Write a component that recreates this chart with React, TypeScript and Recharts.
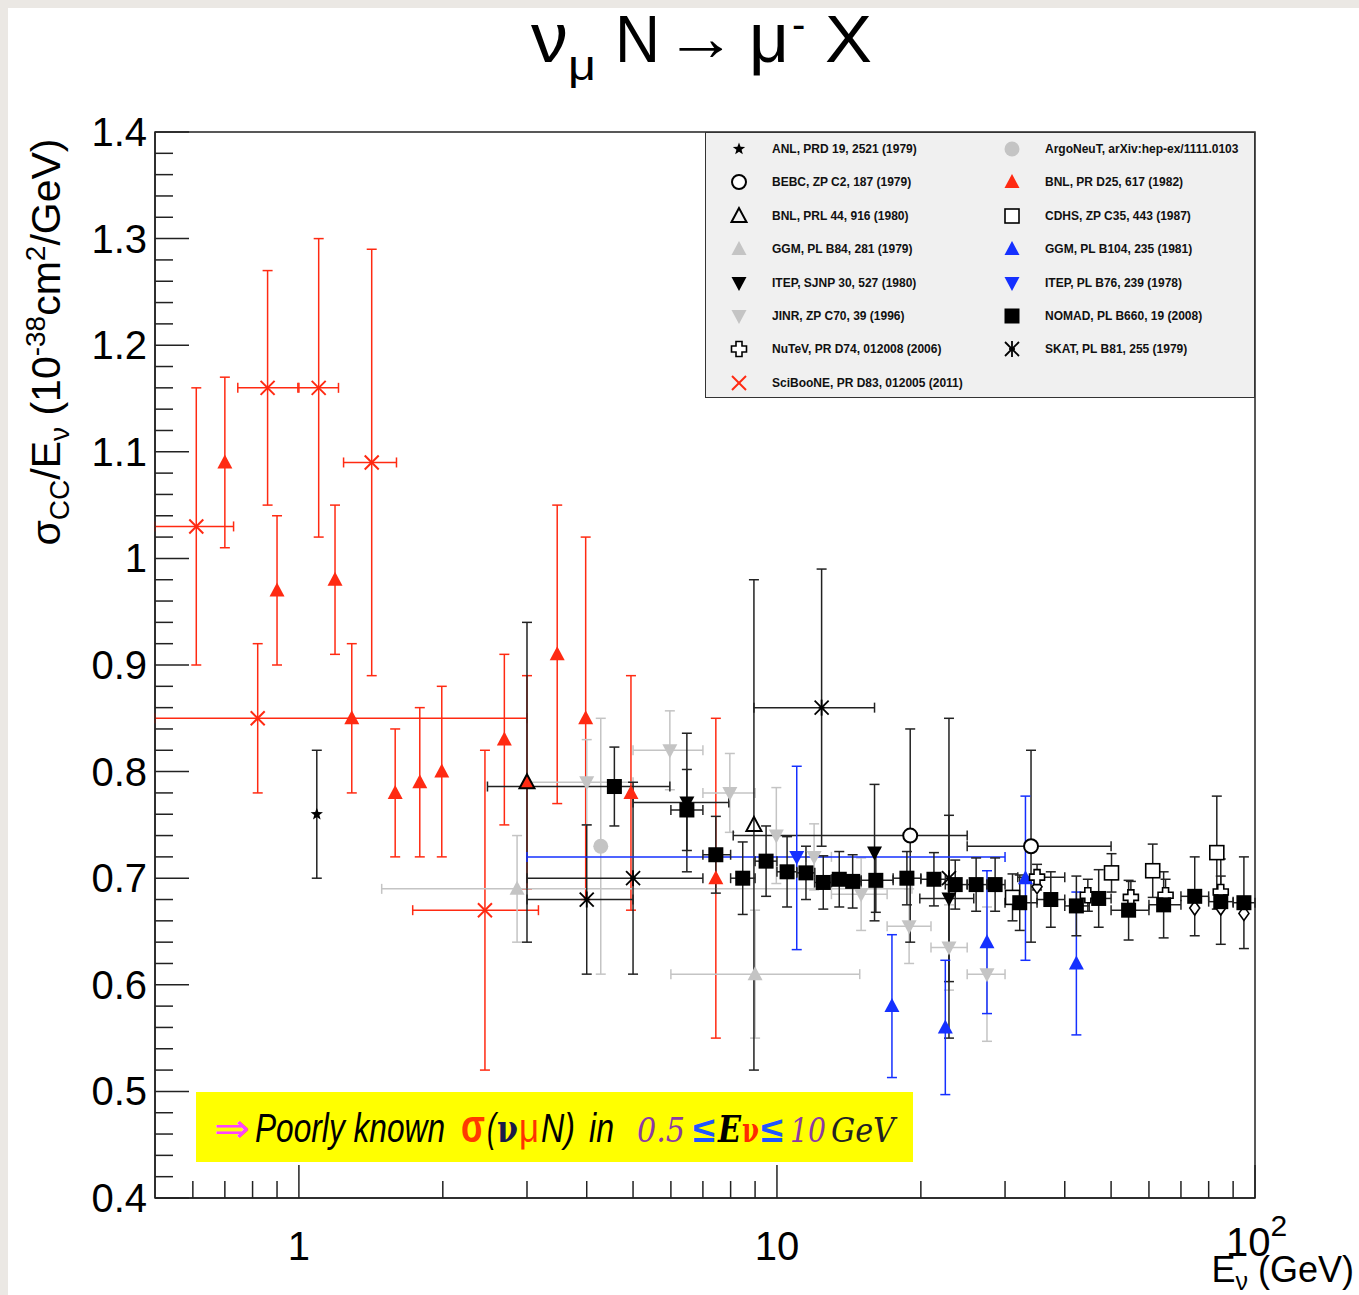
import React from 'react';
import { ComposedChart, Scatter, XAxis, YAxis, ErrorBar, Legend, ReferenceArea } from 'recharts';

const RED = '#ff2a12';
const BLUE = '#1530ff';
const GRAY = '#c4c4c4';
const BLACK = '#000';

// ---- data: e = E_nu (GeV), s = sigma/E, dy/dx = [minus, plus] ----
const sciBooNE = [
  { e: 0.61, s: 1.03, dy: [0.13, 0.13], dx: [0.11, 0.12] },
  { e: 0.82, s: 0.85, dy: [0.07, 0.07], dx: [0.32, 2.18] },
  { e: 0.86, s: 1.16, dy: [0.11, 0.11], dx: [0.115, 0.14] },
  { e: 1.1, s: 1.16, dy: [0.14, 0.14], dx: [0.105, 0.11] },
  { e: 1.42, s: 1.09, dy: [0.2, 0.2], dx: [0.18, 0.18] },
  { e: 2.45, s: 0.67, dy: [0.15, 0.15], dx: [0.72, 0.72] },
];

const bnlPRD25 = [
  { e: 0.7, s: 1.09, dy: [0.08, 0.08] },
  { e: 0.9, s: 0.97, dy: [0.07, 0.07] },
  { e: 1.19, s: 0.98, dy: [0.07, 0.07] },
  { e: 1.29, s: 0.85, dy: [0.07, 0.07] },
  { e: 1.59, s: 0.78, dy: [0.06, 0.06] },
  { e: 1.79, s: 0.79, dy: [0.07, 0.07] },
  { e: 1.99, s: 0.8, dy: [0.08, 0.08] },
  { e: 2.69, s: 0.83, dy: [0.08, 0.08] },
  { e: 3.0, s: 0.79, dy: [0.1, 0.1] },
  { e: 3.47, s: 0.91, dy: [0.14, 0.14] },
  { e: 3.98, s: 0.85, dy: [0.17, 0.17] },
  { e: 4.95, s: 0.78, dy: [0.11, 0.11] },
  { e: 7.45, s: 0.7, dy: [0.15, 0.15] },
];

const anl = [{ e: 1.09, s: 0.76, dy: [0.06, 0.06] }];

const bnlPRL44 = [
  { e: 3.0, s: 0.79, dy: [0.15, 0.15] },
  { e: 8.95, s: 0.75, dy: [0.23, 0.23] },
];

const ggmB84 = [
  { e: 2.86, s: 0.69, dy: [0.05, 0.05], dx: [1.37, 16.3] },
  { e: 9.0, s: 0.61, dy: [0.06, 0.06], dx: [3.0, 5.9] },
];

const jinr = [
  { e: 4.0, s: 0.79, dy: [0.04, 0.04], dx: [1.0, 1.0] },
  { e: 5.97, s: 0.82, dy: [0.037, 0.037], dx: [0.97, 1.03] },
  { e: 7.97, s: 0.78, dy: [0.037, 0.037], dx: [0.97, 1.03] },
  { e: 9.97, s: 0.74, dy: [0.045, 0.045] },
  { e: 11.96, s: 0.72, dy: [0.031, 0.031], dx: [0.46, 1.04] },
  { e: 15.0, s: 0.685, dy: [0.034, 0.034], dx: [2.0, 2.0] },
  { e: 18.9, s: 0.655, dy: [0.035, 0.035], dx: [1.9, 2.1] },
  { e: 22.9, s: 0.635, dy: [0.04, 0.04], dx: [1.9, 2.1] },
  { e: 27.5, s: 0.61, dy: [0.063, 0.063], dx: [2.5, 2.5] },
];

const argoNeuT = [{ e: 4.28, s: 0.73, dy: [0.12, 0.12] }];

const itepSJNP = [
  { e: 6.48, s: 0.771, dy: [0.065, 0.065], dx: [1.48, 1.45] },
  { e: 16.0, s: 0.724, dy: [0.064, 0.064] },
  { e: 22.9, s: 0.681, dy: [0.078, 0.078], dx: [3.0, 2.9] },
];

const skat = [
  { e: 4.0, s: 0.68, dy: [0.07, 0.07], dx: [1.0, 1.0] },
  { e: 5.0, s: 0.7, dy: [0.09, 0.09], dx: [2.0, 2.0] },
  { e: 12.4, s: 0.86, dy: [0.13, 0.13], dx: [3.45, 3.6] },
  { e: 22.9, s: 0.7, dy: [0.15, 0.15] },
];

const bebc = [
  { e: 19.0, s: 0.74, dy: [0.1, 0.1], dx: [10.9, 6.0] },
  { e: 34.0, s: 0.73, dy: [0.09, 0.09], dx: [9.0, 16.0] },
];

const itepB76 = [{ e: 11.0, s: 0.72, dy: [0.087, 0.085], dx: [8.0, 19.0] }];

const ggmB104 = [
  { e: 17.4, s: 0.58, dy: [0.067, 0.067] },
  { e: 22.5, s: 0.56, dy: [0.063, 0.063] },
  { e: 27.5, s: 0.64, dy: [0.067, 0.067] },
  { e: 33.1, s: 0.7, dy: [0.077, 0.077] },
  { e: 42.3, s: 0.62, dy: [0.067, 0.067] },
];

const nomad = [
  { e: 4.57, s: 0.786, dy: [0.037, 0.037], dx: [2.09, 1.4] },
  { e: 6.48, s: 0.764, dy: [0.038, 0.038], dx: [0.48, 0.52] },
  { e: 7.45, s: 0.722, dy: [0.036, 0.036], dx: [0.45, 0.55] },
  { e: 8.48, s: 0.7, dy: [0.034, 0.034], dx: [0.48, 0.52] },
  { e: 9.49, s: 0.716, dy: [0.033, 0.033], dx: [0.49, 0.51] },
  { e: 10.5, s: 0.706, dy: [0.033, 0.033], dx: [0.5, 0.5] },
  { e: 11.5, s: 0.705, dy: [0.025, 0.025], dx: [0.5, 0.5] },
  { e: 12.5, s: 0.696, dy: [0.025, 0.025], dx: [0.5, 0.5] },
  { e: 13.5, s: 0.699, dy: [0.026, 0.026], dx: [0.5, 0.5] },
  { e: 14.4, s: 0.697, dy: [0.025, 0.025], dx: [0.4, 0.6] },
  { e: 16.1, s: 0.698, dy: [0.03, 0.03], dx: [1.1, 1.4] },
  { e: 18.7, s: 0.7, dy: [0.025, 0.025], dx: [1.2, 1.3] },
  { e: 21.3, s: 0.699, dy: [0.025, 0.025], dx: [1.3, 1.2] },
  { e: 23.6, s: 0.694, dy: [0.023, 0.023], dx: [1.1, 1.4] },
  { e: 26.1, s: 0.694, dy: [0.025, 0.025], dx: [1.1, 1.4] },
  { e: 28.6, s: 0.694, dy: [0.025, 0.025], dx: [1.1, 1.4] },
  { e: 32.2, s: 0.677, dy: [0.026, 0.026], dx: [2.2, 2.8] },
  { e: 37.4, s: 0.68, dy: [0.026, 0.026], dx: [2.4, 2.6] },
  { e: 42.3, s: 0.674, dy: [0.028, 0.028], dx: [2.3, 2.7] },
  { e: 47.1, s: 0.681, dy: [0.027, 0.027], dx: [2.1, 2.9] },
  { e: 54.4, s: 0.67, dy: [0.028, 0.028], dx: [4.4, 5.6] },
  { e: 64.4, s: 0.675, dy: [0.031, 0.031], dx: [4.4, 5.6] },
  { e: 74.8, s: 0.683, dy: [0.037, 0.037], dx: [4.8, 5.2] },
  { e: 84.8, s: 0.678, dy: [0.04, 0.04], dx: [4.8, 5.2] },
  { e: 94.8, s: 0.677, dy: [0.043, 0.043], dx: [4.8, 5.2] },
];

const cdhs = [
  { e: 31.1, s: 0.682, dy: [0.022, 0.022] },
  { e: 50.1, s: 0.705, dy: [0.018, 0.018] },
  { e: 61.1, s: 0.707, dy: [0.025, 0.025] },
  { e: 83.2, s: 0.724, dy: [0.053, 0.053] },
];

const nuTeV = [
  { e: 35.0, s: 0.701, dy: [0.012, 0.012], dx: [3.1, 5.0] },
  { e: 44.7, s: 0.684, dy: [0.015, 0.015] },
  { e: 55.0, s: 0.682, dy: [0.015, 0.015] },
  { e: 65.0, s: 0.684, dy: [0.015, 0.015] },
  { e: 84.8, s: 0.687, dy: [0.015, 0.015] },
];

// open diamonds drawn under the NuTeV points (no legend entry)
const diamonds = [
  { e: 35.0, s: 0.692 },
  { e: 74.8, s: 0.672 },
  { e: 84.8, s: 0.672 },
  { e: 94.8, s: 0.667 },
];

// ---- axes ----
const xMajor = [1, 10, 100];
const xMinor = [0.6, 0.7, 0.8, 0.9, 2, 3, 4, 5, 6, 7, 8, 9, 20, 30, 40, 50, 60, 70, 80, 90];
const yMajor = [0.4, 0.5, 0.6, 0.7, 0.8, 0.9, 1.0, 1.1, 1.2, 1.3, 1.4];
const yLabels = ['0.4', '0.5', '0.6', '0.7', '0.8', '0.9', '1', '1.1', '1.2', '1.3', '1.4'];
const yMinor = [
  0.42, 0.44, 0.46, 0.48, 0.52, 0.54, 0.56, 0.58, 0.62, 0.64, 0.66, 0.68,
  0.72, 0.74, 0.76, 0.78, 0.82, 0.84, 0.86, 0.88, 0.92, 0.94, 0.96, 0.98,
  1.02, 1.04, 1.06, 1.08, 1.12, 1.14, 1.16, 1.18, 1.22, 1.24, 1.26, 1.28,
  1.32, 1.34, 1.36, 1.38,
];

type Kind =
  | 'star' | 'circleOpen' | 'dot' | 'tri' | 'triOpen' | 'triDown'
  | 'square' | 'squareOpen' | 'x' | 'asterisk' | 'plusOpen' | 'diamondOpen';

// drawing order follows the ROOT plot (later = on top)
const series: { name: string; data: any[]; kind: Kind; color: string; bar: string }[] = [
  { name: 'SciBooNE', data: sciBooNE, kind: 'x', color: RED, bar: RED },
  { name: 'BNL PR D25', data: bnlPRD25, kind: 'tri', color: RED, bar: RED },
  { name: 'ANL', data: anl, kind: 'star', color: BLACK, bar: '#222' },
  { name: 'GGM B84', data: ggmB84, kind: 'tri', color: GRAY, bar: GRAY },
  { name: 'JINR', data: jinr, kind: 'triDown', color: GRAY, bar: GRAY },
  { name: 'ArgoNeuT', data: argoNeuT, kind: 'dot', color: GRAY, bar: GRAY },
  { name: 'BNL PRL 44', data: bnlPRL44, kind: 'triOpen', color: BLACK, bar: '#222' },
  { name: 'SKAT', data: skat, kind: 'asterisk', color: BLACK, bar: '#222' },
  { name: 'ITEP SJNP', data: itepSJNP, kind: 'triDown', color: BLACK, bar: '#222' },
  { name: 'BEBC', data: bebc, kind: 'circleOpen', color: BLACK, bar: '#222' },
  { name: 'ITEP B76', data: itepB76, kind: 'triDown', color: BLUE, bar: BLUE },
  { name: 'GGM B104', data: ggmB104, kind: 'tri', color: BLUE, bar: BLUE },
  { name: 'CDHS', data: cdhs, kind: 'squareOpen', color: BLACK, bar: '#222' },
  { name: 'diamonds', data: diamonds, kind: 'diamondOpen', color: BLACK, bar: '#222' },
  { name: 'NuTeV', data: nuTeV, kind: 'plusOpen', color: BLACK, bar: '#222' },
  { name: 'NOMAD', data: nomad, kind: 'square', color: BLACK, bar: '#222' },
];

const legendLeft: [string, Kind, string][] = [
  ['ANL, PRD 19, 2521 (1979)', 'star', BLACK],
  ['BEBC, ZP C2, 187 (1979)', 'circleOpen', BLACK],
  ['BNL, PRL 44, 916 (1980)', 'triOpen', BLACK],
  ['GGM, PL B84, 281 (1979)', 'tri', GRAY],
  ['ITEP, SJNP 30, 527 (1980)', 'triDown', BLACK],
  ['JINR, ZP C70, 39 (1996)', 'triDown', GRAY],
  ['NuTeV, PR D74, 012008 (2006)', 'plusOpen', BLACK],
  ['SciBooNE, PR D83, 012005 (2011)', 'x', RED],
];
const legendRight: [string, Kind, string][] = [
  ['ArgoNeuT, arXiv:hep-ex/1111.0103', 'dot', GRAY],
  ['BNL, PR D25, 617 (1982)', 'tri', RED],
  ['CDHS, ZP C35, 443 (1987)', 'squareOpen', BLACK],
  ['GGM, PL B104, 235 (1981)', 'tri', BLUE],
  ['ITEP, PL B76, 239 (1978)', 'triDown', BLUE],
  ['NOMAD, PL B660, 19 (2008)', 'square', BLACK],
  ['SKAT, PL B81, 255 (1979)', 'asterisk', BLACK],
];

const SANS = '"Liberation Sans", Arial, Helvetica, sans-serif';
const SERIF = '"DejaVu Serif", "Liberation Serif", serif';

function Marker({ kind, cx, cy, color }: { kind: Kind; cx: number; cy: number; color: string }) {
  switch (kind) {
    case 'star': {
      const pts: string[] = [];
      for (let i = 0; i < 10; i++) {
        const r = i % 2 === 0 ? 6.5 : 2.7;
        const a = -Math.PI / 2 + (i * Math.PI) / 5;
        pts.push(`${cx + r * Math.cos(a)},${cy + r * Math.sin(a)}`);
      }
      return <polygon points={pts.join(' ')} fill={color} />;
    }
    case 'circleOpen':
      return <circle cx={cx} cy={cy} r={7} fill="#fff" stroke={color} strokeWidth={2} />;
    case 'dot':
      return <circle cx={cx} cy={cy} r={7.5} fill={color} />;
    case 'tri':
      return <polygon points={`${cx},${cy - 8} ${cx - 7.5},${cy + 6} ${cx + 7.5},${cy + 6}`} fill={color} />;
    case 'triOpen':
      return (
        <polygon
          points={`${cx},${cy - 8} ${cx - 7.5},${cy + 6} ${cx + 7.5},${cy + 6}`}
          fill="#fff"
          fillOpacity={0}
          stroke={color}
          strokeWidth={2}
        />
      );
    case 'triDown':
      return <polygon points={`${cx},${cy + 8} ${cx - 7.5},${cy - 6} ${cx + 7.5},${cy - 6}`} fill={color} />;
    case 'square':
      return <rect x={cx - 7.5} y={cy - 7.5} width={15} height={15} fill={color} />;
    case 'squareOpen':
      return <rect x={cx - 7} y={cy - 7} width={14} height={14} fill="#fff" stroke={color} strokeWidth={1.6} />;
    case 'x':
      return (
        <g stroke={color} strokeWidth={2}>
          <line x1={cx - 7} y1={cy - 7} x2={cx + 7} y2={cy + 7} />
          <line x1={cx - 7} y1={cy + 7} x2={cx + 7} y2={cy - 7} />
        </g>
      );
    case 'asterisk':
      return (
        <g stroke={color} strokeWidth={1.8}>
          <line x1={cx - 7} y1={cy - 7} x2={cx + 7} y2={cy + 7} />
          <line x1={cx - 7} y1={cy + 7} x2={cx + 7} y2={cy - 7} />
          <line x1={cx} y1={cy - 8} x2={cx} y2={cy + 8} />
          <line x1={cx - 3} y1={cy} x2={cx + 3} y2={cy} />
        </g>
      );
    case 'plusOpen': {
      const a = 3;
      const b = 7.5;
      const p = [
        [-a, -b], [a, -b], [a, -a], [b, -a], [b, a], [a, a],
        [a, b], [-a, b], [-a, a], [-b, a], [-b, -a], [-a, -a],
      ]
        .map(([u, v]) => `${cx + u},${cy + v}`)
        .join(' ');
      return <polygon points={p} fill="#fff" stroke={color} strokeWidth={1.6} />;
    }
    case 'diamondOpen':
      return (
        <polygon
          points={`${cx},${cy - 7} ${cx + 5},${cy} ${cx},${cy + 7} ${cx - 5},${cy}`}
          fill="#fff"
          stroke={color}
          strokeWidth={1.6}
        />
      );
    default:
      return null;
  }
}

const XTick = (p: any) => {
  const v = p.payload.value;
  const major = xMajor.includes(v);
  return (
    <g>
      <line x1={p.x} y1={p.y} x2={p.x} y2={p.y - (major ? 33 : 17)} stroke="#222" strokeWidth={1.5} />
      {v === 1 && (
        <text x={p.x} y={p.y + 62} textAnchor="middle" fontSize={40} fontFamily={SANS} fill="#000">1</text>
      )}
      {v === 10 && (
        <text x={p.x} y={p.y + 62} textAnchor="middle" fontSize={40} fontFamily={SANS} fill="#000">10</text>
      )}
      {v === 100 && (
        <text x={p.x - 29} y={p.y + 58} fontSize={40} fontFamily={SANS} fill="#000">
          10<tspan fontSize={30} dy={-20}>2</tspan>
        </text>
      )}
    </g>
  );
};

const YTick = (p: any) => {
  const v = p.payload.value;
  const i = yMajor.findIndex((m) => Math.abs(m - v) < 1e-9);
  return (
    <g>
      <line x1={p.x} y1={p.y} x2={p.x + (i >= 0 ? 34 : 18)} y2={p.y} stroke="#222" strokeWidth={1.5} />
      {i >= 0 && (
        <text x={p.x - 8} y={p.y + 14} textAnchor="end" fontSize={40} fontFamily={SANS} fill="#000">
          {yLabels[i]}
        </text>
      )}
    </g>
  );
};

const LegendBox = () => {
  const item = ([label, kind, color]: [string, Kind, string], i: number, mx: number, tx: number) => (
    <React.Fragment key={label}>
      <svg
        width={20}
        height={20}
        style={{ position: 'absolute', left: mx - 10, top: 16 + i * 33.4 - 10, overflow: 'visible' }}
      >
        <Marker kind={kind} cx={10} cy={10} color={color} />
      </svg>
      <div
        style={{
          position: 'absolute',
          left: tx,
          top: 16 + i * 33.4 - 8,
          fontFamily: SANS,
          fontWeight: 'bold',
          fontSize: 12,
          lineHeight: '16px',
          color: '#111',
          whiteSpace: 'nowrap',
        }}
      >
        {label}
      </div>
    </React.Fragment>
  );
  return (
    <div
      style={{
        position: 'relative',
        width: 550,
        height: 266,
        boxSizing: 'border-box',
        border: '1.5px solid #333',
        background: '#f0f0f0',
      }}
    >
      {legendLeft.map((r, i) => item(r, i, 33, 66))}
      {legendRight.map((r, i) => item(r, i, 306, 339))}
    </div>
  );
};

export default function App() {
  return (
    <div style={{ position: 'relative', width: 1359, height: 1295, background: '#ebe8e4', overflow: 'hidden' }}>
      <style>{'body{margin:0}'}</style>
      <div style={{ position: 'absolute', left: 8, top: 8, right: 0, bottom: 0, background: '#fff' }} />
      <div style={{ position: 'absolute', left: 0, top: 0 }}>
        <ComposedChart width={1359} height={1295} margin={{ top: 132, right: 104, bottom: 96, left: 154 }}>
          <XAxis
            type="number"
            dataKey="e"
            scale="log"
            domain={[0.5, 100]}
            allowDataOverflow
            ticks={[...xMinor, ...xMajor].sort((a, b) => a - b)}
            interval={0}
            height={1}
            tickSize={0}
            tickMargin={0}
            tickLine={false}
            axisLine={{ stroke: '#222', strokeWidth: 1.5 }}
            tick={XTick}
          />
          <YAxis
            type="number"
            dataKey="s"
            domain={[0.4, 1.4]}
            allowDataOverflow
            ticks={[...yMinor, ...yMajor].sort((a, b) => a - b)}
            interval={0}
            width={1}
            tickSize={0}
            tickMargin={0}
            tickLine={false}
            axisLine={{ stroke: '#222', strokeWidth: 1.5 }}
            tick={YTick}
          />
          <ReferenceArea
            x1={0.5}
            x2={100}
            y1={0.4}
            y2={1.4}
            fill="none"
            fillOpacity={0}
            stroke="#222"
            strokeWidth={1.5}
            ifOverflow="visible"
          />
          {series.map((sr) => {
            const hasDx = sr.data.some((d: any) => d.dx);
            const hasDy = sr.data.some((d: any) => d.dy);
            return (
              <Scatter
                key={sr.name}
                name={sr.name}
                data={sr.data}
                dataKey="s"
                isAnimationActive={false}
                shape={(p: any) => <Marker kind={sr.kind} cx={p.cx} cy={p.cy} color={sr.color} />}
              >
                {hasDy && (
                  <ErrorBar
                    dataKey="dy"
                    direction="y"
                    width={5}
                    stroke={sr.bar}
                    strokeWidth={1.5}
                    isAnimationActive={false}
                  />
                )}
                {hasDx && (
                  <ErrorBar
                    dataKey="dx"
                    direction="x"
                    width={5}
                    stroke={sr.bar}
                    strokeWidth={1.5}
                    isAnimationActive={false}
                  />
                )}
              </Scatter>
            );
          })}
          <Legend
            layout="horizontal"
            verticalAlign="middle"
            align="center"
            wrapperStyle={{ left: 705, top: 132, width: 550, height: 266 }}
            content={() => <LegendBox />}
          />
        </ComposedChart>
      </div>

      {/* titles and the yellow note */}
      <svg
        width={1359}
        height={1295}
        style={{ position: 'absolute', left: 0, top: 0, pointerEvents: 'none' }}
      >
        <g fontFamily={SANS} fill="#000">
          <text x={531} y={62} fontSize={70} textLength={37} lengthAdjust="spacingAndGlyphs">ν</text>
          <text x={568} y={80} fontSize={42} textLength={28} lengthAdjust="spacingAndGlyphs">μ</text>
          <text x={615} y={62} fontSize={66} textLength={45} lengthAdjust="spacingAndGlyphs">N</text>
          <text x={665} y={60} fontSize={66} textLength={72} lengthAdjust="spacingAndGlyphs">→</text>
          <text x={749} y={62} fontSize={70} textLength={40} lengthAdjust="spacingAndGlyphs">μ</text>
          <text x={792} y={38} fontSize={40}>-</text>
          <text x={825} y={62} fontSize={66} textLength={47} lengthAdjust="spacingAndGlyphs">X</text>
        </g>

        <text x={60} y={342} transform="rotate(-90 60 342)" textAnchor="middle" fontFamily={SANS} fontSize={41} fill="#000">
          σ<tspan fontSize={28} dy={9}>CC</tspan>
          <tspan dy={-9}>/E</tspan>
          <tspan fontSize={28} dy={9}>ν</tspan>
          <tspan dy={-9}> (10</tspan>
          <tspan fontSize={28} dy={-15}>-38</tspan>
          <tspan dy={15}>cm</tspan>
          <tspan fontSize={28} dy={-15}>2</tspan>
          <tspan dy={15}>/GeV)</tspan>
        </text>

        <text x={1354} y={1282} textAnchor="end" fontFamily={SANS} fontSize={36} fill="#000">
          E<tspan fontSize={25} dy={8}>ν</tspan>
          <tspan dy={-8}> (GeV)</tspan>
        </text>

        <rect x={196} y={1092} width={717} height={70} fill="#ffff00" />
        <text y={1142} fontSize={40} fontFamily={SANS}>
          <tspan x={214} fill="#ff44ff" fontFamily='"DejaVu Sans", sans-serif' textLength={36} lengthAdjust="spacingAndGlyphs">⇒</tspan>
          <tspan x={255} fontStyle="italic" textLength={190} lengthAdjust="spacingAndGlyphs">Poorly known</tspan>
          <tspan x={461} fontWeight="bold" fill="#ff3a00" fontSize={46} textLength={24} lengthAdjust="spacingAndGlyphs">σ</tspan>
          <tspan x={487} fontStyle="italic" textLength={9} lengthAdjust="spacingAndGlyphs">(</tspan>
          <tspan x={497} fontFamily={SERIF} fontWeight="bold" fill="#1a1a4a" textLength={21} lengthAdjust="spacingAndGlyphs">ν</tspan>
          <tspan x={519} fill="#ff3300" textLength={20} lengthAdjust="spacingAndGlyphs">μ</tspan>
          <tspan x={541} fontStyle="italic" textLength={34} lengthAdjust="spacingAndGlyphs">N)</tspan>
          <tspan x={589} fontStyle="italic" textLength={25} lengthAdjust="spacingAndGlyphs">in</tspan>
          <tspan x={637} fontFamily={SERIF} fontStyle="italic" fill="#8b3aa6" fontSize={34} textLength={48} lengthAdjust="spacingAndGlyphs">0.5</tspan>
          <tspan x={693} fontWeight="bold" fill="#1f55ff" fontSize={36} textLength={22} lengthAdjust="spacingAndGlyphs">≤</tspan>
          <tspan x={718} fontFamily={SERIF} fontWeight="bold" fontStyle="italic" fontSize={38} textLength={23} lengthAdjust="spacingAndGlyphs">E</tspan>
          <tspan x={742} fontFamily={SERIF} fontWeight="bold" fill="#ff2a00" fontSize={34} textLength={17} lengthAdjust="spacingAndGlyphs">ν</tspan>
          <tspan x={761} fontWeight="bold" fill="#1f55ff" fontSize={36} textLength={22} lengthAdjust="spacingAndGlyphs">≤</tspan>
          <tspan x={790} fontFamily={SERIF} fontStyle="italic" fill="#8b3aa6" fontSize={34} textLength={36} lengthAdjust="spacingAndGlyphs">10</tspan>
          <tspan x={831} fontFamily={SERIF} fontStyle="italic" fill="#222" fontSize={34} textLength={64} lengthAdjust="spacingAndGlyphs">GeV</tspan>
        </text>
      </svg>
    </div>
  );
}
